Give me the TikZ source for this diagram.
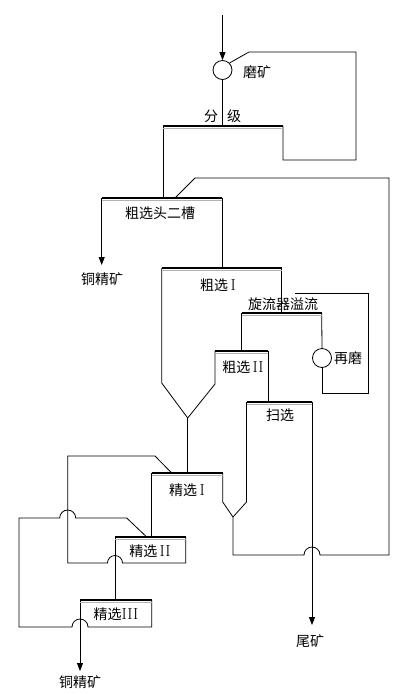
\documentclass[tikz,border=0pt]{standalone}
\usepackage{fontspec}
\newfontfamily\cjk{Noto Sans CJK SC}
\usetikzlibrary{arrows.meta}
\newcommand\mybar[2]{\draw[barline] (#1) -- (#2);\draw[barsub] ([yshift=-2.6pt]#1) -- ([yshift=-2.6pt]#2);}
\newcommand\rnum[1]{{\fontsize{16}{18}\selectfont\rmfamily #1}}
\begin{document}
\begin{tikzpicture}[x=1pt,y=-1pt,
  ln/.style={line width=0.8pt},
  arr/.style={ln,-{Triangle[length=8pt,width=6pt]}},
  lbl/.style={font=\fontsize{14}{16}\selectfont\cjk, inner sep=0pt},
  mill/.style={circle,draw,line width=0.8pt,minimum size=19pt,inner sep=0pt},
  barline/.style={line width=2.2pt, line cap=butt},
  barsub/.style={line width=0.9pt, gray!60, line cap=butt}]
\useasboundingbox (0,0) rectangle (407,694);
% ---- coordinates
\coordinate (feed) at (222.5,15);
\coordinate (millL1) at (249,52);
\coordinate (millL2) at (356,52);
\coordinate (millL3) at (356,160);
\coordinate (millL4) at (283,160);
\coordinate (clsL) at (163,126);
\coordinate (clsR) at (283,126);
\coordinate (clsC) at (222.5,126);
\coordinate (r0L) at (101.7,198);
\coordinate (r0R) at (222,198);
\coordinate (r0in) at (163,198);
\coordinate (r0J) at (175,198);
\coordinate (ret1) at (195,178);
\coordinate (ret2) at (389,178);
\coordinate (ret3) at (389,555);
\coordinate (ret4) at (233,555);
\coordinate (cu1) at (101.7,265);
\coordinate (r1L) at (161.7,268);
\coordinate (r1R) at (281.7,268);
\coordinate (r1in) at (222,268);
\coordinate (r1a) at (161.7,383);
\coordinate (vA) at (187.7,418);
\coordinate (cyL) at (241.7,313);
\coordinate (cyR) at (321.7,313);
\coordinate (cyin) at (281.7,313);
\coordinate (rg1) at (322,393);
\coordinate (rg2) at (368,393);
\coordinate (rg3) at (368,293);
\coordinate (rg4) at (295,293);
\coordinate (r2L) at (215,351);
\coordinate (r2R) at (268.3,351);
\coordinate (r2in) at (241.7,351);
\coordinate (r2a) at (215,384);
\coordinate (scL) at (246.5,402);
\coordinate (scR) at (312,402);
\coordinate (scin) at (268.3,402);
\coordinate (sca) at (246.5,502);
\coordinate (vB) at (233,517);
\coordinate (tail) at (312,625);
\coordinate (c1L) at (151.7,473);
\coordinate (c1R) at (222.7,473);
\coordinate (c1in) at (187.7,473);
\coordinate (c1J) at (171.7,473);
\coordinate (c1a) at (222.7,502);
\coordinate (f1a) at (155,456);
\coordinate (f1b) at (67.7,456);
\coordinate (f1c) at (67.7,563);
\coordinate (f1d) at (185.7,563);
\coordinate (c2L) at (115,537);
\coordinate (c2R) at (185.7,537);
\coordinate (c2in) at (151.7,537);
\coordinate (c2J) at (146.7,537);
\coordinate (c3L) at (80,600);
\coordinate (c3R) at (151.7,600);
\coordinate (c3in) at (115,600);
\coordinate (f2a) at (151.7,627);
\coordinate (f2b) at (19,627);
\coordinate (f2c) at (19,518);
\coordinate (f2d) at (126.7,518);
\coordinate (cu2) at (80,671);
% ---- units
\node[mill] (mill) at (222.5,70) {};
\node[mill] (regr) at (322,358) {};
% ---- connectors
\draw[arr] (feed) -- (mill.north);
\draw[ln] (mill.south) -- (clsC);
\draw[ln] (mill.45) -- (millL1) -- (millL2) -- (millL3) -- (millL4) -- (clsR);
\draw[ln] (clsL) -- (r0in);
\draw[ln] (vB) -- (ret4) -- (304,555) arc[start angle=180,end angle=0,radius=8pt] -- (ret3) -- (ret2) -- (ret1) -- (r0J);
\draw[arr] (r0L) -- (cu1);
\draw[ln] (r0R) -- (r1in);
\draw[ln] (r1L) -- (r1a) -- (vA);
\draw[ln] (r1R) -- (cyin);
\draw[ln] (cyR) -- (regr.north);
\draw[ln] (regr.south) -- (rg1) -- (rg2) -- (rg3) -- (rg4);
\draw[ln] (cyL) -- (r2in);
\draw[ln] (r2L) -- (r2a) -- (vA);
\draw[ln] (r2R) -- (scin);
\draw[arr] (scR) -- (tail);
\draw[ln] (scL) -- (sca) -- (vB);
\draw[ln] (vA) -- (c1in);
\draw[ln] (c1R) -- (c1a) -- (vB);
\draw[ln] (c1L) -- (c2in);
\draw[ln] (c1J) -- (f1a) -- (f1b) -- (f1c) -- (107.5,563) arc[start angle=180,end angle=0,radius=7.5pt] -- (f1d) -- (c2R);
\draw[ln] (c2L) -- (c3in);
\draw[ln] (c3R) -- (f2a) -- (88,627) arc[start angle=0,end angle=180,radius=8pt] -- (f2b) -- (f2c) -- (59.7,518) arc[start angle=180,end angle=0,radius=8pt] -- (f2d) -- (c2J);
\draw[arr] (c3L) -- (cu2);
% ---- bars
\mybar{clsL}{clsR}
\mybar{r0L}{r0R}
\mybar{r1L}{r1R}
\mybar{cyL}{cyR}
\mybar{r2L}{r2R}
\mybar{scL}{scR}
\mybar{c1L}{c1R}
\mybar{c2L}{c2R}
\mybar{c3L}{c3R}
% ---- labels
\node[lbl] (tmill) at (257,72) {磨矿};
\node[lbl] (tfen) at (211,116) {分};
\node[lbl] (tji) at (234,116) {级};
\node[lbl] (tr0) at (160,213) {粗选头二槽};
\node[lbl] (tcu1) at (102,279) {铜精矿};
\node[lbl] (tr1) at (218,285) {粗选\,\rnum{I}};
\node[lbl] (tcy) at (283,304) {旋流器溢流};
\node[lbl] (tregr) at (348,358) {再磨};
\node[lbl] (tr2) at (243,367) {粗选\,\rnum{II}};
\node[lbl] (tsc) at (280,415) {扫选};
\node[lbl] (tc1) at (187,490) {精选\,\rnum{I}};
\node[lbl] (tc2) at (150,551) {精选\,\rnum{II}};
\node[lbl] (tc3) at (116,614) {精选\rnum{III}};
\node[lbl] (ttail) at (310,641) {尾矿};
\node[lbl] (tcu2) at (80,682) {铜精矿};
\end{tikzpicture}
\end{document}
